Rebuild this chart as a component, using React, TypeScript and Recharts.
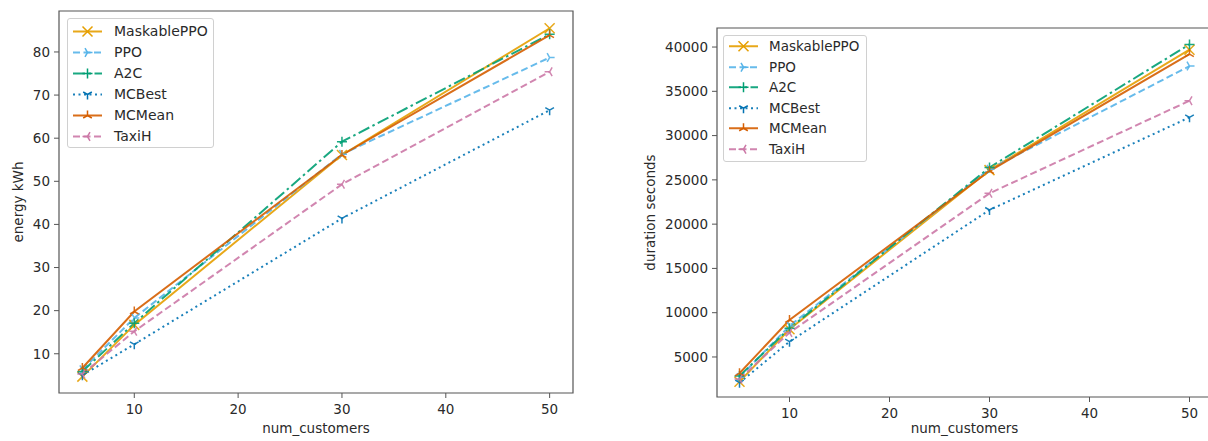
import React from 'react';
import { LineChart, Line, XAxis, YAxis, ReferenceArea, Legend } from 'recharts';

// ---- data ----
const customers = [5, 10, 30, 50];

const energyMaskablePPO = [4.7, 16.7, 56.1, 85.5];
const energyPPO = [6.3, 18.3, 56.3, 78.7];
const energyA2C = [5.9, 17.1, 59.2, 84.1];
const energyMCBest = [5.0, 12.2, 41.4, 66.5];
const energyMCMean = [6.7, 19.8, 56.1, 83.9];
const energyTaxiH = [5.3, 15.2, 49.3, 75.4];

const durationMaskablePPO = [2210, 8130, 26100, 39700];
const durationPPO = [2700, 8500, 26200, 37850];
const durationA2C = [2860, 8240, 26400, 40300];
const durationMCBest = [2100, 6730, 21600, 32060];
const durationMCMean = [3160, 9180, 26000, 39200];
const durationTaxiH = [2500, 7750, 23480, 33940];

const xTicks = [10, 20, 30, 40, 50];
const energyTicks = [10, 20, 30, 40, 50, 60, 70, 80];
const durationTicks = [5000, 10000, 15000, 20000, 25000, 30000, 35000, 40000];

const seriesNames = ['MaskablePPO', 'PPO', 'A2C', 'MCBest', 'MCMean', 'TaxiH'];

const energyRows = customers.map((c, i) => ({
  x: c,
  MaskablePPO: energyMaskablePPO[i],
  PPO: energyPPO[i],
  A2C: energyA2C[i],
  MCBest: energyMCBest[i],
  MCMean: energyMCMean[i],
  TaxiH: energyTaxiH[i],
}));

const durationRows = customers.map((c, i) => ({
  x: c,
  MaskablePPO: durationMaskablePPO[i],
  PPO: durationPPO[i],
  A2C: durationA2C[i],
  MCBest: durationMCBest[i],
  MCMean: durationMCMean[i],
  TaxiH: durationTaxiH[i],
}));

// ---- styles ----
const STYLE: Record<string, { color: string; dash?: string; marker: string }> = {
  MaskablePPO: { color: '#E69F00', marker: 'x' },
  PPO: { color: '#56B4E9', dash: '7 3.5', marker: 'tri_right' },
  A2C: { color: '#009E73', dash: '12 3.5 2.5 3.5', marker: 'plus' },
  MCBest: { color: '#0072B2', dash: '2 3.5', marker: 'tri_down' },
  MCMean: { color: '#D55E00', marker: 'tri_up' },
  TaxiH: { color: '#CC79A7', dash: '7 3.5', marker: 'tri_left' },
};

const FONT = '"DejaVu Sans", sans-serif';
const TEXT = '#2a2a2a';
const FRAME = '#555';
const X_DOMAIN: [number, number] = [2.75, 52.25];
const E_DOMAIN: [number, number] = [0.9, 89.5];
const D_DOMAIN: [number, number] = [480, 42150];

function markerPath(type: string, cx: number, cy: number, r: number) {
  const s = 0.866 * r;
  const h = 0.5 * r;
  switch (type) {
    case 'x':
      return `M${cx - r},${cy - r}L${cx + r},${cy + r}M${cx - r},${cy + r}L${cx + r},${cy - r}`;
    case 'plus':
      return `M${cx - r},${cy}L${cx + r},${cy}M${cx},${cy - r}L${cx},${cy + r}`;
    case 'tri_down':
      return `M${cx},${cy}L${cx},${cy + r}M${cx},${cy}L${cx - s},${cy - h}M${cx},${cy}L${cx + s},${cy - h}`;
    case 'tri_up':
      return `M${cx},${cy}L${cx},${cy - r}M${cx},${cy}L${cx - s},${cy + h}M${cx},${cy}L${cx + s},${cy + h}`;
    case 'tri_left':
      return `M${cx},${cy}L${cx - r},${cy}M${cx},${cy}L${cx + h},${cy - s}M${cx},${cy}L${cx + h},${cy + s}`;
    case 'tri_right':
    default:
      return `M${cx},${cy}L${cx + r},${cy}M${cx},${cy}L${cx - h},${cy - s}M${cx},${cy}L${cx - h},${cy + s}`;
  }
}

function makeDot(name: string) {
  const st = STYLE[name];
  return (p: any) => {
    if (p.cx == null || p.cy == null) return <g key={`${name}-${p.index}`} />;
    return (
      <path
        key={`${name}-${p.index}`}
        d={markerPath(st.marker, p.cx, p.cy, 5)}
        stroke={st.color}
        strokeWidth={1.5}
        fill="none"
        strokeOpacity={0.9}
      />
    );
  };
}

function LegendBox({ fontSize, rowH, firstY, width, height, textX }: any) {
  return (
    <div
      style={{
        width,
        height,
        background: 'rgba(255,255,255,0.85)',
        border: '1px solid #d0d0d0',
        borderRadius: 3,
        boxSizing: 'border-box',
        position: 'relative',
        fontFamily: FONT,
        fontSize,
        color: TEXT,
      }}
    >
      {seriesNames.map((n, i) => {
        const st = STYLE[n];
        const cy = firstY + i * rowH;
        return (
          <div key={n} style={{ position: 'absolute', left: 0, top: cy - rowH / 2, height: rowH, width: '100%' }}>
            <svg width={40} height={rowH} style={{ position: 'absolute', left: 0, top: 0 }}>
              <line
                x1={5}
                x2={34}
                y1={rowH / 2}
                y2={rowH / 2}
                stroke={st.color}
                strokeWidth={2}
                strokeDasharray={st.dash}
                strokeOpacity={0.9}
              />
              <path d={markerPath(st.marker, 19.5, rowH / 2, 5)} stroke={st.color} strokeWidth={1.5} fill="none" />
            </svg>
            <span style={{ position: 'absolute', left: textX, top: 0, lineHeight: `${rowH}px`, whiteSpace: 'nowrap' }}>{n}</span>
          </div>
        );
      })}
    </div>
  );
}

function YLabel({ viewBox, value, dx }: any) {
  const x = viewBox.x + dx;
  const y = viewBox.y + viewBox.height / 2;
  return (
    <text
      x={x}
      y={y}
      transform={`rotate(-90, ${x}, ${y})`}
      textAnchor="middle"
      dominantBaseline="central"
      fontFamily={FONT}
      fontSize={13.5}
      fill={TEXT}
    >
      {value}
    </text>
  );
}

const tickStyle = { fontFamily: FONT, fontSize: 13.5, fill: TEXT };

function Panel({ rows, yDomain, yTicks, yLabel, yWidth, yLabelDx, margin, xAxisH, legend }: any) {
  return (
    <LineChart width={600} height={441} data={rows} margin={margin}>
      <XAxis
        dataKey="x"
        type="number"
        domain={X_DOMAIN}
        ticks={xTicks}
        allowDataOverflow
        height={xAxisH}
        tick={tickStyle}
        tickSize={5}
        tickMargin={6}
        tickLine={{ stroke: FRAME }}
        axisLine={false}
        label={{ value: 'num_customers', position: 'insideBottom', offset: 8, style: { fontFamily: FONT, fontSize: 13.5, fill: TEXT } }}
      />
      <YAxis
        type="number"
        domain={yDomain}
        ticks={yTicks}
        allowDataOverflow
        width={yWidth}
        tick={tickStyle}
        tickSize={5}
        tickMargin={4}
        tickLine={{ stroke: FRAME }}
        axisLine={false}
        label={{ value: yLabel, content: (p: any) => <YLabel {...p} value={yLabel} dx={yLabelDx} /> }}
      />
      <ReferenceArea x1={X_DOMAIN[0]} x2={X_DOMAIN[1]} y1={yDomain[0]} y2={yDomain[1]} fill="none" stroke={FRAME} strokeWidth={1.2} />
      {seriesNames.map((n) => (
        <Line
          key={n}
          dataKey={n}
          stroke={STYLE[n].color}
          strokeWidth={2}
          strokeOpacity={0.9}
          strokeDasharray={STYLE[n].dash}
          dot={makeDot(n)}
          activeDot={false}
          isAnimationActive={false}
        />
      ))}
      <Legend
        layout="vertical"
        align="center"
        verticalAlign="middle"
        wrapperStyle={{ left: legend.left, top: legend.top, width: legend.width, height: legend.height }}
        content={() => <LegendBox {...legend} />}
      />
    </LineChart>
  );
}

export default function App() {
  return (
    <div style={{ position: 'absolute', left: 0, top: 0, width: 1208, height: 441, overflow: 'hidden', background: '#fff' }}>
      <div style={{ position: 'absolute', left: 0, top: 0 }}>
        <Panel
          rows={energyRows}
          yDomain={E_DOMAIN}
          yTicks={energyTicks}
          yLabel="energy kWh"
          yWidth={59}
          yLabelDx={18}
          margin={{ top: 11, right: 27, left: 0, bottom: 0 }}
          xAxisH={48}
          legend={{ left: 67, top: 18, width: 147, height: 130, fontSize: 14, rowH: 21, firstY: 12, textX: 46 }}
        />
      </div>
      <div style={{ position: 'absolute', left: 640, top: 0 }}>
        <Panel
          rows={durationRows}
          yDomain={D_DOMAIN}
          yTicks={durationTicks}
          yLabel="duration seconds"
          yWidth={77}
          yLabelDx={10}
          margin={{ top: 28, right: 28, left: 0, bottom: 0 }}
          xAxisH={44}
          legend={{ left: 83, top: 35, width: 144, height: 127, fontSize: 13.5, rowH: 20.5, firstY: 10.7, textX: 45 }}
        />
      </div>
    </div>
  );
}
